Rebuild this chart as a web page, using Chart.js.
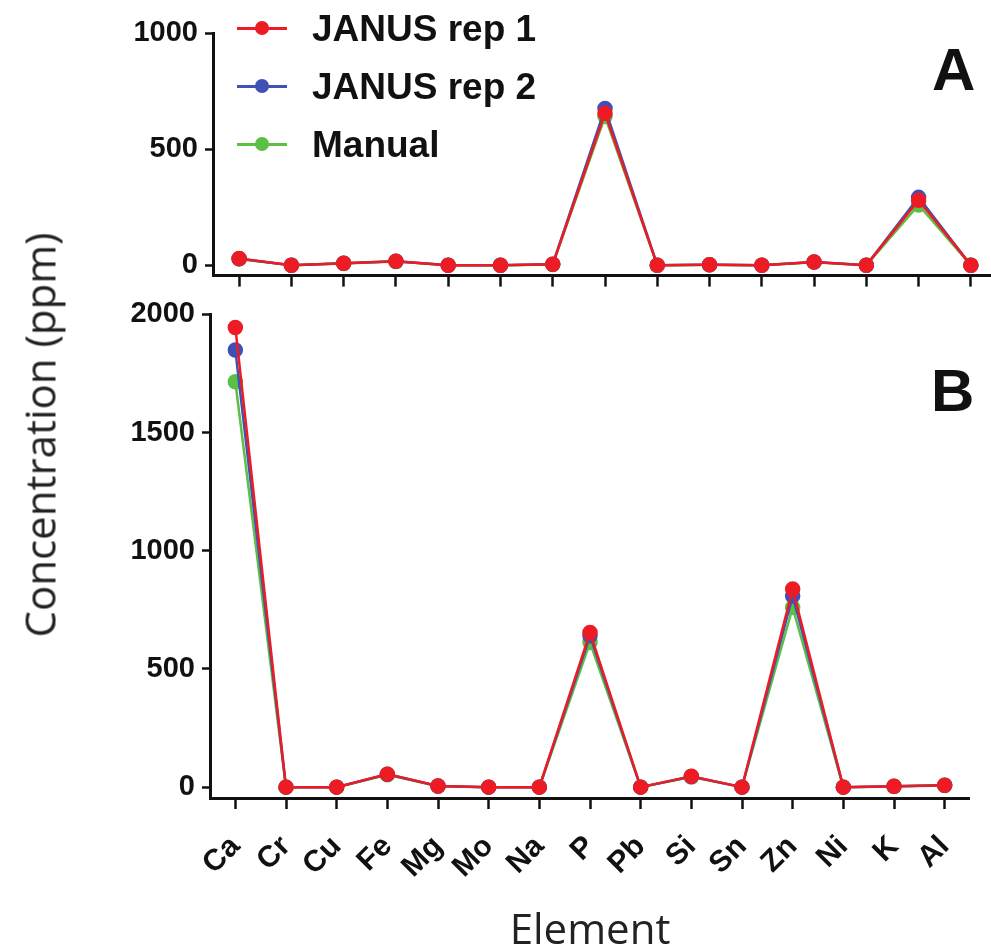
<!DOCTYPE html>
<html>
<head>
<meta charset="utf-8">
<title>Concentration by element</title>
<script src="https://cdn.jsdelivr.net/npm/chart.js@4.4.0/dist/chart.umd.min.js"></script>
<style>
  body { margin: 0; background: #fff; overflow: hidden; }
  #wrap { position: relative; width: 991px; height: 950px; overflow: hidden; background: #fff; }
  #chartA { position: absolute; left: 0; top: 0; }
  #chartB { position: absolute; left: 0; top: 290px; }
  .bold { position: absolute; font-family: "Liberation Sans", Arial, sans-serif; font-weight: bold; color: #111; white-space: nowrap; }
  .panel { font-size: 60px; line-height: 60px; }
  .keytext { font-size: 37px; line-height: 37px; }
  .keyline { position: absolute; height: 3px; width: 50px; }
  .keydot { position: absolute; width: 14px; height: 14px; border-radius: 50%; }
  #ytitle { position: absolute; left: 39px; top: 435px; transform: translate(-50%, -50%) rotate(-90deg);
    font-family: "Open Sans", sans-serif; font-size: 42px; color: #222; white-space: nowrap; }
</style>
</head>
<body>
<div id="wrap">
  <canvas id="chartA" width="997" height="300"></canvas>
  <canvas id="chartB" width="970" height="668"></canvas>
  <div id="ytitle">Concentration (ppm)</div>
  <div class="bold panel" style="left:932px; top:40px;">A</div>
  <div class="bold panel" style="left:931px; top:361px;">B</div>
  <div id="legend"></div>
</div>
<script>
'use strict'

var elements = ['Ca', 'Cr', 'Cu', 'Fe', 'Mg', 'Mo', 'Na', 'P', 'Pb', 'Si', 'Sn', 'Zn', 'Ni', 'K', 'Al'];
var seriesNames = ['JANUS rep 1', 'JANUS rep 2', 'Manual'];
var seriesColors = ['#ed1c24', '#3f51b5', '#5cbf46'];

// panel A
var rep1A = [29, 0, 8, 17, 0, 0, 4, 654, 0, 2, 0, 14, 0, 280, 0];
var rep2A = [28, 0, 8, 17, 0, 0, 4, 675, 0, 2, 0, 14, 0, 292, 0];
var manualA = [27, 0, 7, 16, 0, 0, 3, 640, 0, 2, 0, 13, 0, 259, 0];
var ticksA = [0, 500, 1000];

// panel B
var rep1B = [1945, 0, 0, 55, 5, 0, 0, 654, 0, 46, 0, 838, 0, 4, 8];
var rep2B = [1849, 0, 0, 54, 5, 0, 0, 640, 0, 45, 0, 809, 0, 4, 8];
var manualB = [1715, 0, 0, 52, 4, 0, 0, 612, 0, 43, 0, 760, 0, 3, 7];
var ticksB = [0, 500, 1000, 1500, 2000];

var ink = '#111';
var boldFont = 'Liberation Sans, Arial, sans-serif';

/////////////////////////////////////////////////////////////////

function makeDatasets(a, b, c) {
  var series = [a, b, c];
  var sets = [];
  for (var i = 0; i < series.length; i++) {
    sets.push({
      label: seriesNames[i],
      data: series[i],
      borderColor: seriesColors[i],
      backgroundColor: seriesColors[i],
      pointBackgroundColor: seriesColors[i],
      pointBorderColor: seriesColors[i],
      pointRadius: 6.5,
      borderWidth: 2.5,
      tension: 0,
      clip: false
    });
  }
  return sets;
}

/////////////////////////////////////////////////////////////////

function makeChart(id, datasets, yMin, yMax, yTicks, yWidth, xHeight, padTop, showLabels) {
  var ctx = document.getElementById(id).getContext('2d');
  return new Chart(ctx, {
    type: 'line',
    data: {
      labels: elements,
      datasets: datasets
    },
    options: {
      responsive: false,
      animation: false,
      events: [],
      layout: { autoPadding: false, padding: { top: padTop, left: 0, right: 0, bottom: 0 } },
      plugins: { legend: { display: false }, tooltip: { enabled: false } },
      scales: {
        x: {
          type: 'category',
          offset: true,
          grid: { offset: false, drawOnChartArea: false, drawTicks: true, tickLength: 11, tickWidth: 2.5, tickColor: ink },
          border: { display: true, color: ink, width: 3 },
          ticks: {
            display: showLabels,
            autoSkip: false,
            minRotation: 45,
            maxRotation: 45,
            padding: 20,
            color: ink,
            font: { family: boldFont, size: 30, weight: 'bold' }
          },
          title: {
            display: showLabels,
            text: 'Element',
            color: '#222',
            font: { family: 'Open Sans', size: 42, weight: 'normal' },
            padding: { top: 0, bottom: 1 }
          },
          afterFit: function (s) {
            s.height = xHeight;
            s.paddingLeft = 0;
            s.paddingRight = 0;
          }
        },
        y: {
          min: yMin,
          max: yMax,
          grid: { drawOnChartArea: false, drawTicks: true, tickLength: 8, tickWidth: 2.5, tickColor: ink },
          border: { display: true, color: ink, width: 3 },
          ticks: {
            padding: 7,
            color: ink,
            font: { family: boldFont, size: 29, weight: 'bold' },
            callback: function (v) { return String(v); }
          },
          afterBuildTicks: function (s) {
            s.ticks = yTicks.map(function (v) { return { value: v }; });
          },
          afterFit: function (s) { s.width = yWidth; }
        }
      }
    }
  });
}

/////////////////////////////////////////////////////////////////

function makeLegend() {
  var box = document.getElementById('legend');
  for (var i = 0; i < seriesNames.length; i++) {
    var mid = 28 + i * 58;
    var line = document.createElement('div');
    line.className = 'keyline';
    line.style.left = '237px';
    line.style.top = (mid - 1.5) + 'px';
    line.style.background = seriesColors[i];
    box.appendChild(line);

    var dot = document.createElement('div');
    dot.className = 'keydot';
    dot.style.left = (262 - 7) + 'px';
    dot.style.top = (mid - 7) + 'px';
    dot.style.background = seriesColors[i];
    box.appendChild(dot);

    var txt = document.createElement('div');
    txt.className = 'bold keytext';
    txt.style.left = '312px';
    txt.style.top = (mid - 18) + 'px';
    txt.textContent = seriesNames[i];
    box.appendChild(txt);
  }
}

/////////////////////////////////////////////////////////////////

makeChart('chartA', makeDatasets(rep1A, rep2A, manualA), -45, 1000, ticksA, 213, 13, 33, false);
makeChart('chartB', makeDatasets(rep1B, rep2B, manualB), -46, 2000, ticksB, 210, 160, 20, true);
makeLegend();
</script>
</body>
</html>
